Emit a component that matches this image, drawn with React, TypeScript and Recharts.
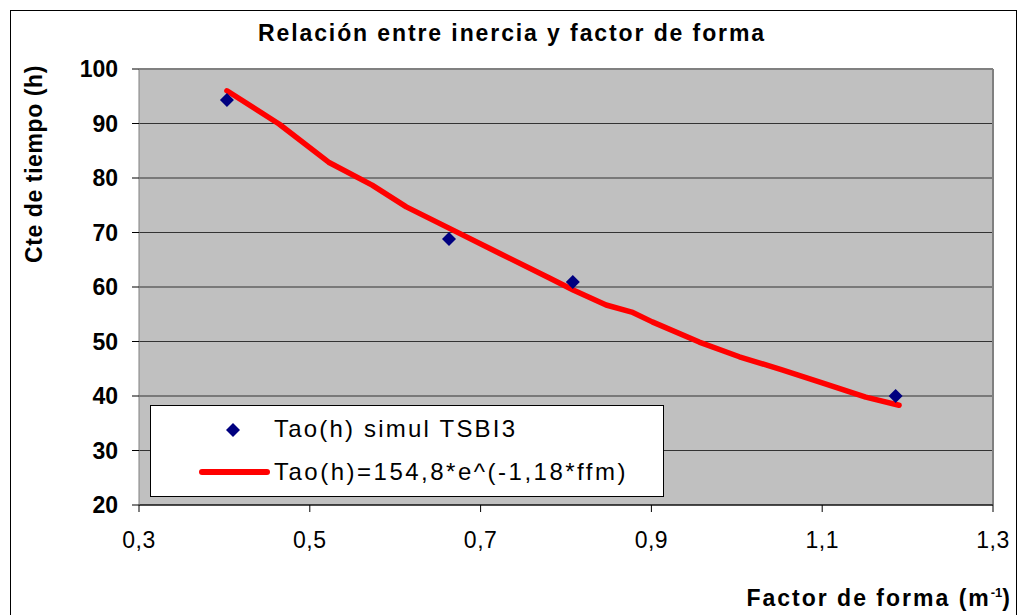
import React from "react";
import {
  ComposedChart,
  Line,
  Scatter,
  XAxis,
  YAxis,
  CartesianGrid,
  ReferenceLine,
} from "recharts";

// simulated points (Tao(h) simul TSBI3)
const simulFfm = [0.403, 0.663, 0.808, 1.186];
const simulTao = [94.3, 68.8, 60.9, 40.0];

// fitted curve
const fitFfm = [
  0.403, 0.464, 0.522, 0.573, 0.613, 0.663, 0.722, 0.78, 0.809, 0.847, 0.877,
  0.901, 0.956, 1.003, 1.053, 1.1, 1.151, 1.19,
];
const fitTao = [
  96.0, 89.9, 82.9, 78.7, 74.7, 70.8, 66.2, 61.7, 59.4, 56.7, 55.4, 53.6, 49.9,
  47.2, 44.8, 42.4, 39.8, 38.3,
];

const xTicks = [0.3, 0.5, 0.7, 0.9, 1.1, 1.3];
const yTicks = [20, 30, 40, 50, 60, 70, 80, 90, 100];

const simulData = simulFfm.map((x, i) => ({ x, y: simulTao[i] }));
const fitData = fitFfm.map((x, i) => ({ x, y: fitTao[i] }));

const FONT = "'Liberation Sans', Arial, sans-serif";

function Diamond(props: any) {
  const { cx, cy } = props;
  if (cx == null || cy == null) return null;
  const r = 7;
  return (
    <polygon
      points={`${cx},${cy - r} ${cx + r},${cy} ${cx},${cy + r} ${cx - r},${cy}`}
      fill="#000080"
    />
  );
}

function LegendBox() {
  return (
    <svg
      width={514}
      height={92}
      style={{ position: "absolute", left: 150, top: 405 }}
    >
      <rect x={0.5} y={0.5} width={513} height={91} fill="#fff" stroke="#000" />
      <polygon points="83,18 90,25 83,32 76,25" fill="#000080" />
      <line
        x1={52}
        y1={67}
        x2={117}
        y2={67}
        stroke="#ff0000"
        strokeWidth={6}
        strokeLinecap="round"
      />
      <text x={124} y={32} fontFamily={FONT} fontSize={24} letterSpacing={2.2}>
        Tao(h) simul TSBI3
      </text>
      <text x={124} y={75} fontFamily={FONT} fontSize={24} letterSpacing={2.5}>
        Tao(h)=154,8*e^(-1,18*ffm)
      </text>
    </svg>
  );
}

function XTitle() {
  return (
    <text
      x={1012}
      y={606}
      textAnchor="end"
      fontFamily={FONT}
      fontSize={23}
      fontWeight="bold"
      letterSpacing={2}
      fill="#000"
    >
      Factor de forma (m
      <tspan fontSize={13} dy={-9} letterSpacing={0}>
        -1
      </tspan>
      <tspan dy={9}>)</tspan>
    </text>
  );
}

function YTitle() {
  return (
    <text
      x={42}
      y={164}
      transform="rotate(-90 42 164)"
      textAnchor="middle"
      fontFamily={FONT}
      fontSize={23}
      fontWeight="bold"
      letterSpacing={0.6}
      fill="#000"
    >
      Cte de tiempo (h)
    </text>
  );
}

export default function App() {
  return (
    <div
      style={{
        position: "absolute",
        left: 0,
        top: 0,
        width: 1017,
        height: 615,
        overflow: "hidden",
        background: "#fff",
      }}
    >
      <div
        style={{
          position: "absolute",
          left: 10,
          top: 10,
          width: 1005,
          height: 640,
          border: "1px solid #000",
        }}
      />
      <svg
        width={1017}
        height={60}
        style={{ position: "absolute", left: 0, top: 0 }}
      >
        <text
          x={512}
          y={41}
          textAnchor="middle"
          fontFamily={FONT}
          fontWeight="bold"
          fontSize={23}
          letterSpacing={1.9}
        >
          Relación entre inercia y factor de forma
        </text>
      </svg>
      <div style={{ position: "absolute", left: 0, top: 0 }}>
        <ComposedChart
          width={1017}
          height={615}
          margin={{ top: 69, right: 24, left: 0, bottom: 0 }}
        >
          <CartesianGrid
            vertical={false}
            stroke="#333"
            fill="#c0c0c0"
            fillOpacity={1}
          />
          <XAxis
            type="number"
            dataKey="x"
            domain={[0.3, 1.3]}
            ticks={xTicks}
            allowDataOverflow
            height={110}
            tickSize={7}
            tickMargin={20}
            tickFormatter={(v: number) => v.toFixed(1).replace(".", ",")}
            tick={{ fontFamily: FONT, fontSize: 23, fill: "#000", letterSpacing: 0.5 }}
            axisLine={{ stroke: "#000" }}
            tickLine={{ stroke: "#000" }}
            label={<XTitle />}
          />
          <YAxis
            type="number"
            dataKey="y"
            domain={[20, 100]}
            ticks={yTicks}
            allowDataOverflow
            width={139}
            tickSize={7}
            tickMargin={14}
            tick={{
              fontFamily: FONT,
              fontSize: 23,
              fontWeight: "bold",
              fill: "#000",
            }}
            axisLine={{ stroke: "#808080" }}
            tickLine={{ stroke: "#000" }}
            label={<YTitle />}
          />
          <ReferenceLine y={100} stroke="#808080" strokeWidth={2} />
          <ReferenceLine x={1.3} stroke="#808080" strokeWidth={2} />
          <Line
            data={fitData}
            dataKey="y"
            type="linear"
            stroke="#ff0000"
            strokeWidth={5.5}
            strokeLinecap="round"
            strokeLinejoin="round"
            dot={false}
            activeDot={false}
            isAnimationActive={false}
            name="Tao(h)=154,8*e^(-1,18*ffm)"
          />
          <Scatter
            data={simulData}
            dataKey="y"
            shape={<Diamond />}
            isAnimationActive={false}
            name="Tao(h) simul TSBI3"
          />
        </ComposedChart>
      </div>
      <LegendBox />
    </div>
  );
}
